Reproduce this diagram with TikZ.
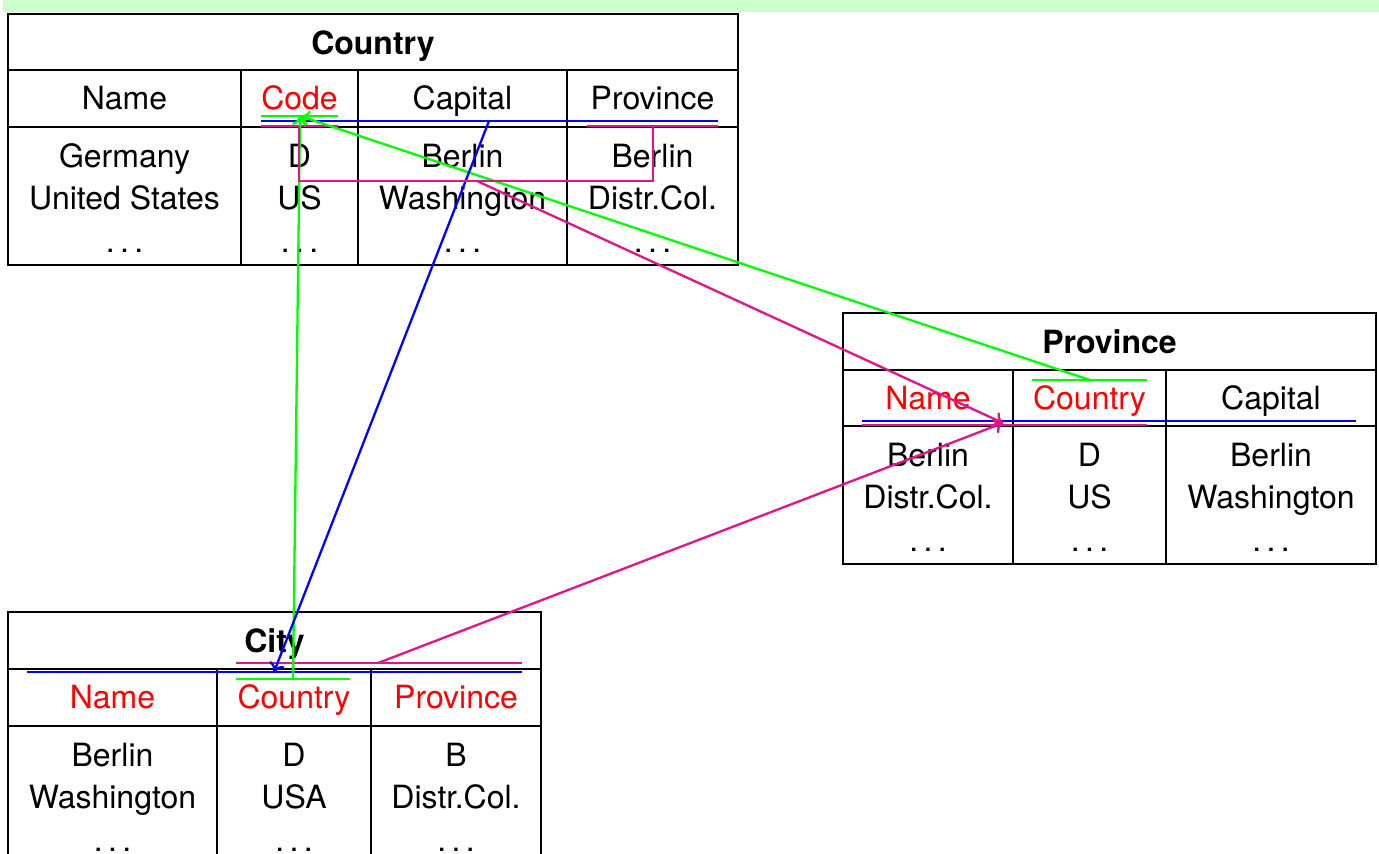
\documentclass[tikz,border=0pt]{standalone}
\usepackage{fontspec}
\setmainfont{TeX Gyre Heros}
\usepackage{tikz}
\usetikzlibrary{arrows.meta}
\definecolor{BannerGreen}{HTML}{CCFFCC}
\definecolor{KeyRed}{HTML}{FF0000}
\definecolor{RefGreen}{HTML}{00FF00}
\definecolor{RefBlue}{HTML}{0000FF}
\definecolor{RefMagenta}{HTML}{E0158C}
\newcommand{\firstline}{\rule{0pt}{30pt}}
\newcommand{\tabdots}{.\,.\,.}

\begin{document}
\begin{tikzpicture}[
      x=1pt, y=-1pt,
      cell/.style={anchor=base, inner sep=0pt, align=center, font=\fontsize{32}{42}\selectfont},
      head/.style={cell, font=\fontsize{32}{42}\selectfont\bfseries},
      key/.style={cell, text=KeyRed},
      data/.style={cell, anchor=north},
      tabline/.style={line width=2.6pt},
      gref/.style={RefGreen, line width=2.3pt},
      bref/.style={RefBlue, line width=2.3pt},
      mref/.style={RefMagenta, line width=2.3pt},
      tip/.style={-{To[length=9pt,width=16pt]}}
  ]
    \useasboundingbox (0,0) rectangle (1379,854);
    \fill[BannerGreen] (3,0) rectangle (1379,12);

    % Country
    \draw[tabline] (8,14) rectangle (738,265);
    \draw[tabline] (8,70) -- (738,70) (8,127) -- (738,127);
    \draw[tabline] (241,70) -- (241,265) (358,70) -- (358,265) (567,70) -- (567,265);
    \node[head](country) at (373,54){Country};
    \node[cell](c-name) at (124.5,109){Name};
    \node[key](c-code) at (299.5,109){Code};
    \node[cell](c-cap) at (462.5,109){Capital};
    \node[cell](c-prov) at (652.5,109){Province};
    \node[data](c-name-d) at (124.5,137){\firstline Germany\\United States\\[1pt]\tabdots};
    \node[data](c-code-d) at (299.5,137){\firstline D\\US\\[1pt]\tabdots};
    \node[data](c-cap-d) at (462.5,137){\firstline Berlin\\Washington\\[1pt]\tabdots};
    \node[data](c-prov-d) at (652.5,137){\firstline Berlin\\Distr.Col.\\[1pt]\tabdots};

    % Province
    \draw[tabline] (843,313) rectangle (1376,564);
    \draw[tabline] (843,370) -- (1376,370) (843,426) -- (1376,426);
    \draw[tabline] (1013,370) -- (1013,564) (1166,370) -- (1166,564);
    \node[head](province) at (1109.5,353){Province};
    \node[key](p-name) at (928,409){Name};
    \node[key](p-ctry) at (1089.5,409){Country};
    \node[cell](p-cap) at (1271,409){Capital};
    \node[data](p-name-d) at (928,436){\firstline Berlin\\Distr.Col.\\[1pt]\tabdots};
    \node[data](p-ctry-d) at (1089.5,436){\firstline D\\US\\[1pt]\tabdots};
    \node[data](p-cap-d) at (1271,436){\firstline Berlin\\Washington\\[1pt]\tabdots};

    % City
    \draw[tabline] (8,860) -- (8,612) -- (541,612) -- (541,860);
    \draw[tabline] (8,669) -- (541,669) (8,726) -- (541,726);
    \draw[tabline] (217,669) -- (217,860) (371,669) -- (371,860);
    \node[head](city) at (274.5,652){City};
    \node[key](t-name) at (112.5,708){Name};
    \node[key](t-ctry) at (294,708){Country};
    \node[key](t-prov) at (456,708){Province};
    \node[data](t-name-d) at (112.5,736){\firstline Berlin\\Washington\\[1pt]\tabdots};
    \node[data](t-ctry-d) at (294,736){\firstline D\\USA\\[1pt]\tabdots};
    \node[data](t-prov-d) at (456,736){\firstline B\\Distr.Col.\\[1pt]\tabdots};

    % key marks
    \coordinate (code-g-w) at (261,116); \coordinate (code-g-e) at (338,116);
    \coordinate (code-g) at (300,116);
    \coordinate (c-b-w) at (261,121); \coordinate (c-b-e) at (718,121);
    \coordinate (cap-b) at (489,121);
    \coordinate (code-m-w) at (261,126); \coordinate (code-m-e) at (338,126);
    \coordinate (prov-m-w) at (587,126); \coordinate (prov-m-e) at (718,126);
    \coordinate (bra-a) at (299,126); \coordinate (bra-b) at (299,181);
    \coordinate (bra-c) at (653,181); \coordinate (bra-d) at (653,126);
    \coordinate (bra-mid) at (477,181);

    \coordinate (p-g-w) at (1032,380); \coordinate (p-g-e) at (1147,380);
    \coordinate (p-g) at (1090,380);
    \coordinate (p-b-w) at (862,421); \coordinate (p-b-e) at (1356,421);
    \coordinate (p-m-w) at (862,425); \coordinate (p-m-e) at (1147,425);
    \coordinate (p-m) at (1003,423);

    \coordinate (t-m-w) at (236,663); \coordinate (t-m-e) at (522,663);
    \coordinate (t-m) at (378,663);
    \coordinate (t-b-w) at (27,672); \coordinate (t-b-e) at (522,672);
    \coordinate (t-b) at (274,672);
    \coordinate (t-g-w) at (236,679); \coordinate (t-g-e) at (350,679);
    \coordinate (t-g) at (293,679);

    \draw[gref](code-g-w)--(code-g-e); \draw[bref](c-b-w)--(c-b-e);
    \draw[mref](code-m-w)--(code-m-e); \draw[mref](prov-m-w)--(prov-m-e);
    \draw[gref](p-g-w)--(p-g-e); \draw[bref](p-b-w)--(p-b-e);
    \draw[mref](p-m-w)--(p-m-e);
    \draw[mref](t-m-w)--(t-m-e); \draw[bref](t-b-w)--(t-b-e);
    \draw[gref](t-g-w)--(t-g-e);

    % references
    \draw[gref, tip](t-g)--(code-g);
    \draw[gref, tip](p-g)--(code-g);
    \draw[bref, tip](cap-b)--(t-b);
    \draw[mref](bra-a)--(bra-b)--(bra-c)--(bra-d);
    \draw[mref, tip](bra-mid)--(p-m);
    \draw[mref, tip](t-m)--(p-m);
  \end{tikzpicture}
\end{document}
